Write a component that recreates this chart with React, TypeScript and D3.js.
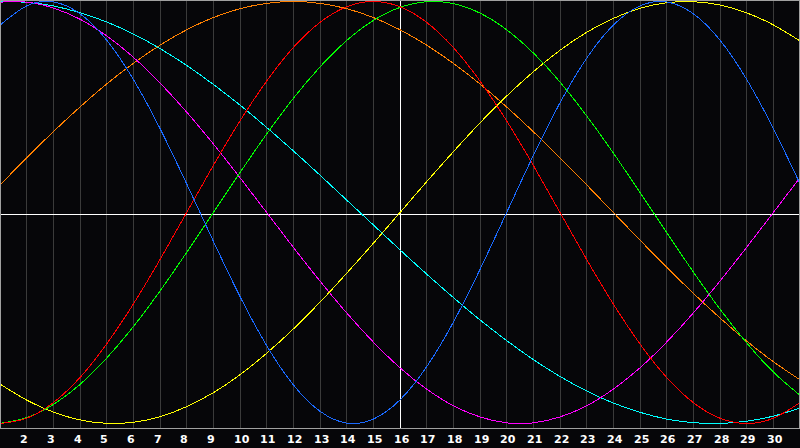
import React from "react";
import * as d3 from "d3";

const days = [1, 2, 3, 4, 5, 6, 7, 8, 9, 10, 11, 12, 13, 14, 15, 16, 17, 18, 19, 20, 21, 22, 23, 24, 25, 26, 27, 28, 29, 30, 31];
const tickLabels = ["2", "3", "4", "5", "6", "7", "8", "9", "10", "11", "12", "13", "14", "15", "16", "17", "18", "19", "20", "21", "22", "23", "24", "25", "26", "27", "28", "29", "30"];
const tickDays = [2, 3, 4, 5, 6, 7, 8, 9, 10, 11, 12, 13, 14, 15, 16, 17, 18, 19, 20, 21, 22, 23, 24, 25, 26, 27, 28, 29, 30];
const markerDay = 16;

// cycle 23 (blue)
const physical = [0.888, 0.979, 0.998, 0.942, 0.817, 0.631, 0.398, 0.136, -0.136, -0.398, -0.631, -0.817, -0.942, -0.998, -0.979, -0.888, -0.731, -0.52, -0.27, 0, 0.27, 0.52, 0.731, 0.888, 0.979, 0.998, 0.942, 0.817, 0.631, 0.398, 0.136];
// cycle 28 (red)
const emotional = [-1, -0.975, -0.901, -0.782, -0.623, -0.434, -0.223, 0, 0.223, 0.434, 0.623, 0.782, 0.901, 0.975, 1, 0.975, 0.901, 0.782, 0.623, 0.434, 0.223, 0, -0.223, -0.434, -0.623, -0.782, -0.901, -0.975, -1, -0.975, -0.901];
// cycle 33 (green)
const intellectual = [-0.999, -0.972, -0.91, -0.815, -0.69, -0.541, -0.372, -0.189, 0, 0.189, 0.372, 0.541, 0.69, 0.815, 0.91, 0.972, 0.999, 0.99, 0.945, 0.866, 0.756, 0.618, 0.458, 0.282, 0.095, -0.095, -0.282, -0.458, -0.618, -0.756, -0.866];
// cycle 38 (magenta)
const intuitive = [0.997, 0.997, 0.969, 0.916, 0.837, 0.736, 0.614, 0.476, 0.325, 0.165, 0, -0.165, -0.325, -0.476, -0.614, -0.736, -0.837, -0.916, -0.969, -0.997, -0.997, -0.969, -0.916, -0.837, -0.736, -0.614, -0.476, -0.325, -0.165, 0, 0.165];
// cycle 43 (yellow)
const aesthetic = [-0.813, -0.889, -0.946, -0.983, -0.999, -0.994, -0.968, -0.92, -0.854, -0.769, -0.667, -0.552, -0.425, -0.288, -0.146, 0, 0.146, 0.288, 0.425, 0.552, 0.667, 0.769, 0.854, 0.92, 0.968, 0.994, 0.999, 0.983, 0.946, 0.889, 0.813];
// cycle 48 (orange)
const awareness = [0.131, 0.259, 0.383, 0.5, 0.609, 0.707, 0.793, 0.866, 0.924, 0.966, 0.991, 1, 0.991, 0.966, 0.924, 0.866, 0.793, 0.707, 0.609, 0.5, 0.383, 0.259, 0.131, 0, -0.131, -0.259, -0.383, -0.5, -0.609, -0.707, -0.793];
// cycle 53 (cyan)
const spiritual = [1, 0.996, 0.979, 0.947, 0.903, 0.846, 0.777, 0.697, 0.607, 0.509, 0.403, 0.292, 0.177, 0.059, -0.059, -0.177, -0.292, -0.403, -0.509, -0.607, -0.697, -0.777, -0.846, -0.903, -0.947, -0.979, -0.996, -1, -0.989, -0.965, -0.927];

const seriesList = [
  { name: "awareness", values: awareness, color: "#ff8000" },
  { name: "spiritual", values: spiritual, color: "#00ffff" },
  { name: "intuitive", values: intuitive, color: "#ff00ff" },
  { name: "aesthetic", values: aesthetic, color: "#ffff00" },
  { name: "intellectual", values: intellectual, color: "#00ff00" },
  { name: "emotional", values: emotional, color: "#ff0000" },
  { name: "physical", values: physical, color: "#1a6aff" },
];

const W = 800;
const H = 448;
const plotBottom = 428;

export default function App() {
  const x = d3.scaleLinear().domain([1, 31]).range([0, W]);
  const y = d3.scaleLinear().domain([-1, 1]).range([423.5, 1.5]);
  const line = d3
    .line<number>()
    .x((_, i) => x(days[i]))
    .y((d) => y(d))
    .curve(d3.curveNatural);

  const px = (v: number) => Math.floor(x(v)) + 0.5;

  return (
    <svg
      width={W}
      height={H}
      style={{ position: "absolute", left: 0, top: 0, display: "block" }}
    >
      <rect x={0} y={0} width={W} height={H} fill="#060609" />
      {tickDays.map((d) => (
        <line
          key={"g" + d}
          x1={px(d)}
          x2={px(d)}
          y1={0}
          y2={plotBottom}
          stroke="#3a3a3a"
          strokeWidth={1}
          shapeRendering="crispEdges"
        />
      ))}
      <line x1={0} x2={W} y1={214.5} y2={214.5} stroke="#ffffff" strokeWidth={1} shapeRendering="crispEdges" />
      <line x1={px(markerDay)} x2={px(markerDay)} y1={0} y2={plotBottom} stroke="#ffffff" strokeWidth={1} shapeRendering="crispEdges" />
      {seriesList.map((s) => (
        <path
          key={s.name}
          d={line(s.values) || ""}
          fill="none"
          stroke={s.color}
          strokeWidth={1}
          shapeRendering="crispEdges"
        />
      ))}
      <rect
        x={0.5}
        y={0.5}
        width={W - 1}
        height={plotBottom}
        fill="none"
        stroke="#a0a0a0"
        strokeWidth={1}
        shapeRendering="crispEdges"
      />
      {tickDays.map((d, i) => (
        <text
          key={"t" + d}
          x={Math.floor(x(d)) - 6}
          y={443}
          fill="#ffffff"
          fontFamily="'DejaVu Sans', Verdana, sans-serif"
          fontWeight="bold"
          fontSize={11}
          textAnchor="start"
        >
          {tickLabels[i]}
        </text>
      ))}
    </svg>
  );
}
